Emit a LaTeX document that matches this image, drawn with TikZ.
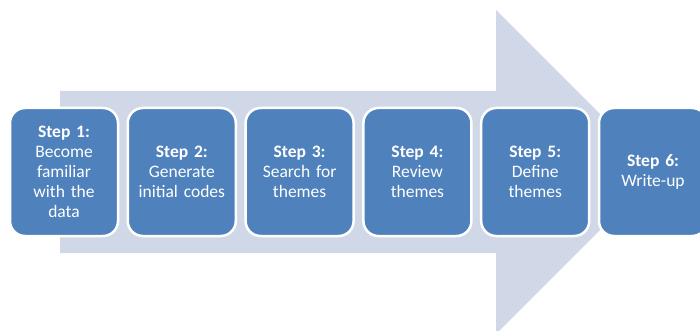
\documentclass[tikz,border=0pt]{standalone}
\usepackage{fontspec}
\setmainfont{Carlito}
\usepackage{tikz}
\usetikzlibrary{positioning}
\definecolor{stepblue}{HTML}{4F81BD}
\definecolor{arrowgrey}{HTML}{D0D8E8}
\tikzset{
  stepbox/.style={rectangle, rounded corners=15pt, fill=stepblue, draw=white,
    line width=2.5pt, minimum width=108pt, minimum height=128pt,
    inner sep=2pt, outer sep=0pt, align=center, text=white, text width=100pt,
    font=\fontsize{17.5pt}{20pt}\selectfont},
  bigarrow/.style={fill=arrowgrey, draw=none}
}
\newcommand{\steplabel}[1]{\textbf{Step #1:}}
\begin{document}
\begin{tikzpicture}[x=1pt,y=1pt]
  \useasboundingbox (0,0) rectangle (700,-331);
  \clip (0,0) rectangle (700,-331);
  % big arrow behind
  \fill[bigarrow] (60,-91) -- (496,-91) -- (496,-10) -- (658,-172)
    -- (496,-334) -- (496,-253) -- (60,-253) -- cycle;
  % steps
  \node[stepbox] (step1) at (64,-172) {\steplabel{1}\\Become\\familiar\\with the\\data};
  \node[stepbox, right=9.8pt of step1] (step2) {\steplabel{2}\\Generate\\initial codes};
  \node[stepbox, right=9.8pt of step2] (step3) {\steplabel{3}\\Search for\\themes};
  \node[stepbox, right=9.8pt of step3] (step4) {\steplabel{4}\\Review\\themes};
  \node[stepbox, right=9.8pt of step4] (step5) {\steplabel{5}\\Define\\themes};
  \node[stepbox, right=9.8pt of step5] (step6) {\steplabel{6}\\Write-up};
\end{tikzpicture}
\end{document}
